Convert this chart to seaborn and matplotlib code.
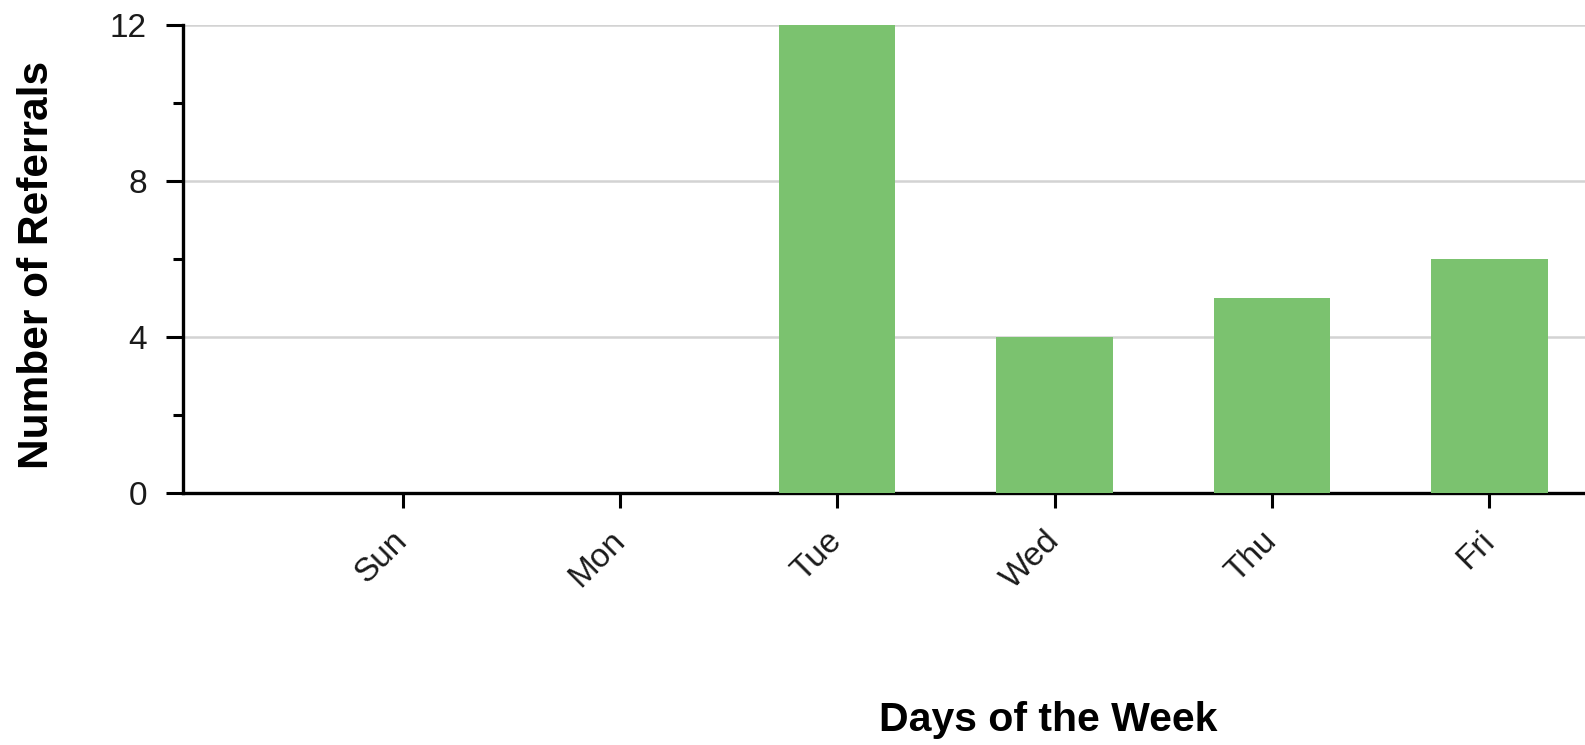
import numpy as np
import pandas as pd
import matplotlib
matplotlib.use('Agg')
import matplotlib.pyplot as plt
import seaborn as sns

# Datos
dias = ['Sun', 'Mon', 'Tue', 'Wed', 'Thu', 'Fri']
referidos = [0, 0, 12, 4, 5, 6]

df = pd.DataFrame({'dia': dias, 'referidos': referidos})

sns.set_style('white')
plt.rcParams['font.family'] = ['Liberation Sans', 'DejaVu Sans']

fig = plt.figure(figsize=(15.85, 7.45), dpi=100)
# el grafico original esta recortado a la derecha
ax = fig.add_axes([183 / 1585, 1 - 493 / 745, (1585 - 183) / 1585, (493 - 25) / 745])

sns.barplot(data=df, x='dia', y='referidos', order=dias, color='#7bc26f',
            width=0.535, saturation=1, linewidth=0, ax=ax, zorder=3)

# Ejes
ax.set_xlim(-1.01, 5.44)
ax.set_ylim(0, 12)
ax.set_yticks([0, 4, 8, 12])
ax.set_yticks([2, 6, 10], minor=True)
ax.yaxis.grid(True, which='major', color='#d3d3d3', linewidth=1.8, zorder=0)
ax.set_axisbelow(True)

for lado in ['top', 'right']:
    ax.spines[lado].set_visible(False)
for lado in ['left', 'bottom']:
    ax.spines[lado].set_color('black')
    ax.spines[lado].set_linewidth(2.4)

ax.tick_params(axis='y', which='major', direction='out', length=12, width=2.2,
               color='black', pad=14, labelsize=24, labelcolor='#1a1a1a', left=True)
ax.tick_params(axis='y', which='minor', direction='out', length=7, width=2.2,
               color='black', left=True)
ax.tick_params(axis='x', direction='out', length=11, width=2.2, color='black',
               pad=20, labelsize=24, labelcolor='#1a1a1a', bottom=True)

for t in ax.get_xticklabels():
    t.set_rotation(45)
    t.set_ha('right')
    t.set_va('center')
    t.set_rotation_mode('anchor')

ax.set_xlabel('')
ax.set_ylabel('')
fig.text(1048 / 1585, 1 - 720 / 745, 'Days of the Week', ha='center', va='center',
         fontsize=29.5, fontweight='bold', color='black')
fig.text(37 / 1585, 1 - 265 / 745, 'Number of Referrals', ha='center', va='center',
         rotation=90, fontsize=30.5, fontweight='bold', color='black')

fig.savefig('out.png', dpi=100)
